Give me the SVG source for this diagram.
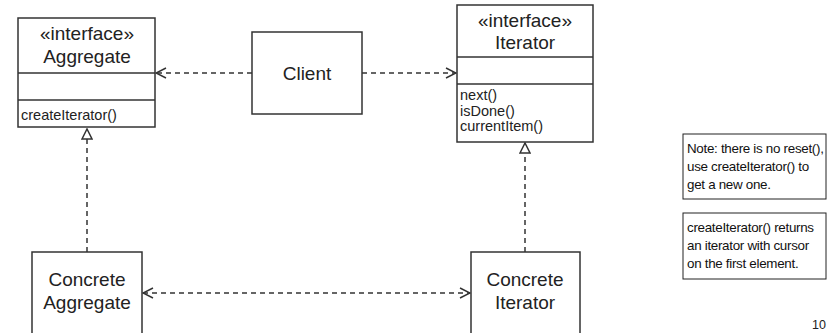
<svg xmlns="http://www.w3.org/2000/svg" width="836" height="333" viewBox="0 0 836 333">
<defs>
<style>
.box{fill:#fff;stroke:#333;stroke-width:1.5}
.ln{stroke:#333;stroke-width:1.5}
.t{font-family:"Liberation Sans",Arial,sans-serif;fill:#222}
.big{font-size:19px;text-anchor:middle}
.sm{font-size:14.5px}
.note{font-family:"Liberation Sans",Arial,sans-serif;font-size:13.4px;letter-spacing:-0.3px;fill:#111}
.dash{fill:none;stroke:#333;stroke-width:1.5;stroke-dasharray:5 4}
</style>
<marker id="open" viewBox="0 0 12 12" refX="11" refY="6" markerWidth="12" markerHeight="12" markerUnits="userSpaceOnUse" orient="auto-start-reverse">
<path d="M1,1 L11,6 L1,11" fill="none" stroke="#333" stroke-width="1.5"/>
</marker>
<marker id="tri" viewBox="0 0 12 12" refX="11" refY="6" markerWidth="12" markerHeight="12" markerUnits="userSpaceOnUse" orient="auto">
<path d="M1,1 L11,6 L1,11 Z" fill="#fff" stroke="#333" stroke-width="1.5"/>
</marker>
</defs>
<rect width="836" height="333" fill="#fff"/>
<g id="connectors">
<line class="dash" x1="252" y1="73" x2="156" y2="73" marker-end="url(#open)"/>
<line class="dash" x1="362" y1="73" x2="456" y2="73" marker-end="url(#open)"/>
<line class="dash" x1="87" y1="252" x2="87" y2="129" marker-end="url(#tri)"/>
<line class="dash" x1="525" y1="252" x2="525" y2="143" marker-end="url(#tri)"/>
<line class="dash" x1="143" y1="293" x2="470" y2="293" marker-start="url(#open)" marker-end="url(#open)"/>
</g>
<g id="aggregate">
<rect class="box" x="18" y="18" width="137" height="109"/>
<line class="ln" x1="18" y1="73" x2="155" y2="73"/>
<line class="ln" x1="18" y1="100" x2="155" y2="100"/>
<text class="t big" x="87" y="40">«interface»</text>
<text class="t big" x="87" y="63">Aggregate</text>
<text class="t sm" x="21" y="120">createIterator()</text>
</g>
<g id="client">
<rect class="box" x="252" y="32" width="110" height="82"/>
<text class="t big" x="307" y="80">Client</text>
</g>
<g id="iterator">
<rect class="box" x="457" y="5" width="136" height="137"/>
<line class="ln" x1="457" y1="57" x2="593" y2="57"/>
<line class="ln" x1="457" y1="84" x2="593" y2="84"/>
<text class="t big" x="525" y="27">«interface»</text>
<text class="t big" x="525" y="49">Iterator</text>
<text class="t sm" x="460" y="100">next()</text>
<text class="t sm" x="460" y="116">isDone()</text>
<text class="t sm" x="460" y="131">currentItem()</text>
</g>
<g id="concrete-aggregate">
<rect class="box" x="32" y="252" width="110" height="95"/>
<text class="t big" x="87" y="286">Concrete</text>
<text class="t big" x="87" y="309">Aggregate</text>
</g>
<g id="concrete-iterator">
<rect class="box" x="471" y="252" width="109" height="95"/>
<text class="t big" x="525" y="286">Concrete</text>
<text class="t big" x="525" y="309">Iterator</text>
</g>
<g id="note1">
<rect x="683" y="134" width="143" height="65" fill="#fff" stroke="#222" stroke-width="1"/>
<text class="note" x="687" y="153">Note: there is no reset(),</text>
<text class="note" x="687" y="171">use createIterator() to</text>
<text class="note" x="687" y="189">get a new one.</text>
</g>
<g id="note2">
<rect x="683" y="213" width="143" height="66" fill="#fff" stroke="#222" stroke-width="1"/>
<text class="note" x="687" y="232">createIterator() returns</text>
<text class="note" x="687" y="250">an iterator with cursor</text>
<text class="note" x="687" y="268">on the first element.</text>
</g>
<text class="t" x="812" y="329" font-size="12.5">10</text>
</svg>
